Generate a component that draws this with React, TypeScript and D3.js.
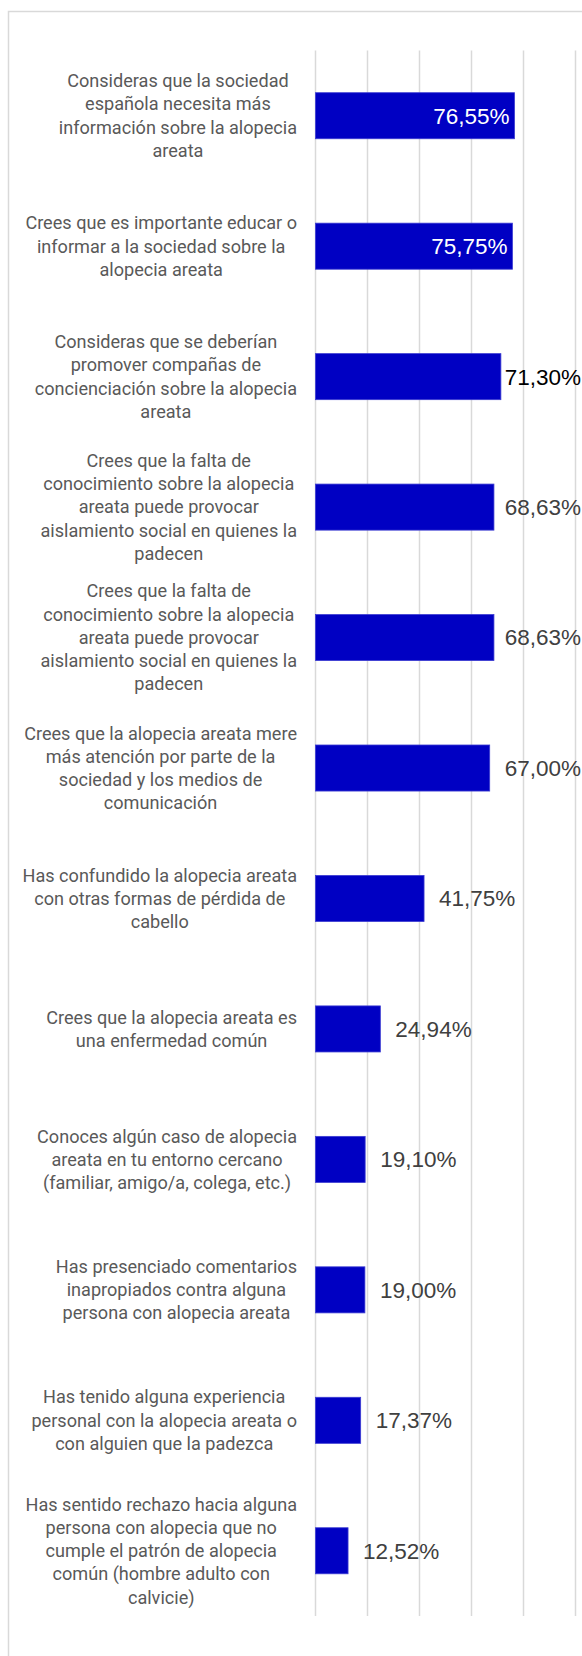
import React from "react";
import * as d3 from "d3";

const categories: string[][] = [
  ["Consideras que la sociedad", "española necesita más", "información sobre la alopecia", "areata"],
  ["Crees que es importante educar o", "informar a la sociedad sobre la", "alopecia areata"],
  ["Consideras que se deberían", "promover compañas de", "concienciación sobre la alopecia", "areata"],
  ["Crees que la falta de", "conocimiento sobre la alopecia", "areata puede provocar", "aislamiento social en quienes la", "padecen"],
  ["Crees que la falta de", "conocimiento sobre la alopecia", "areata puede provocar", "aislamiento social en quienes la", "padecen "],
  ["Crees que la alopecia areata mere", "más atención por parte de la", "sociedad y los medios de", "comunicación"],
  ["Has confundido la alopecia areata", "con otras formas de pérdida de", "cabello"],
  ["Crees que la alopecia areata es", "una enfermedad común"],
  ["Conoces algún caso de alopecia", "areata en tu entorno cercano", "(familiar, amigo/a, colega, etc.)"],
  ["Has presenciado comentarios", "inapropiados contra alguna", "persona con alopecia areata"],
  ["Has tenido alguna experiencia", "personal con la alopecia areata o", "con alguien que la padezca"],
  ["Has sentido rechazo hacia alguna", "persona con alopecia que no", "cumple el patrón de alopecia", "común (hombre adulto con", "calvicie)"],
];
const values: number[] = [76.55, 75.75, 71.3, 68.63, 68.63, 67.0, 41.75, 24.94, 19.1, 19.0, 17.37, 12.52];
const xTicks: number[] = [0, 20, 40, 60, 80, 100];

const W = 582;
const H = 1656;
const CAT_FONT = "Roboto, 'Liberation Sans', sans-serif";
const CAT_SIZE = 18.1;
const VAL_FONT = "'Liberation Sans', Arial, sans-serif";
const VAL_SIZE = 22.5;

let _ctx: CanvasRenderingContext2D | null = null;
function measure(text: string, font: string): number {
  if (!_ctx) {
    const c = document.createElement("canvas");
    _ctx = c.getContext("2d");
  }
  if (!_ctx) return text.length * 9;
  _ctx.font = font;
  return _ctx.measureText(text).width;
}

export default function App() {
  const x = d3.scaleLinear().domain([0, 100]).range([315.5, 575.5]);
  const ids = categories.map((_, i) => String(i));
  const pad = 0.647;
  const y = d3.scaleBand<string>().domain(ids).range([50.5, 1616]).paddingInner(pad).paddingOuter(pad / 2);
  const lineH = 23.2;
  const labelRight = 297;
  const catFontStr = `${CAT_SIZE}px ${CAT_FONT}`;
  const valFontStr = `${VAL_SIZE}px ${VAL_FONT}`;

  return (
    <svg width={W} height={H} style={{ position: "absolute", left: 0, top: 0, background: "#fff" }}>
      <rect x={8.5} y={11.5} width={700} height={1800} fill="#fff" stroke="#d9d9d9" strokeWidth={1.5} />
      {xTicks.map((t) => (
        <line key={t} x1={x(t)} x2={x(t)} y1={50.5} y2={1616} stroke="#d9d9d9" strokeWidth={1.5} />
      ))}
      {values.map((v, i) => {
        const yb = y(String(i)) as number;
        const bh = y.bandwidth();
        return (
          <rect key={"b" + i} x={x(0)} y={yb} width={x(v) - x(0)} height={bh} fill="#0000C3" stroke="#3c3cd2" strokeWidth={0.8} />
        );
      })}
      {categories.map((lines, i) => {
        const cy = (y(String(i)) as number) + y.bandwidth() / 2;
        const maxW = Math.max(...lines.map((l) => measure(l, catFontStr)));
        const cx = labelRight - maxW / 2;
        return (
          <text key={"c" + i} fontFamily={CAT_FONT} fontSize={CAT_SIZE} fill="#595959" textAnchor="middle">
            {lines.map((l, j) => (
              <tspan key={j} x={cx} y={cy + (j - (lines.length - 1) / 2) * lineH} dy="0.35em">
                {l}
              </tspan>
            ))}
          </text>
        );
      })}
      {values.map((v, i) => {
        const cy = (y(String(i)) as number) + y.bandwidth() / 2;
        const label = v.toFixed(2).replace(".", ",") + "%";
        const tw = measure(label, valFontStr);
        const inside = v >= 75;
        let lx: number;
        if (inside) {
          lx = x(v) - 5 - tw;
        } else {
          lx = Math.min(x(v) + 15, W - tw - 1);
        }
        const color = inside ? "#ffffff" : i === 2 ? "#000000" : "#404040";
        return (
          <text key={"v" + i} x={lx} y={cy} dy="0.35em" fontFamily={VAL_FONT} fontSize={VAL_SIZE} fill={color}>
            {label}
          </text>
        );
      })}
    </svg>
  );
}
